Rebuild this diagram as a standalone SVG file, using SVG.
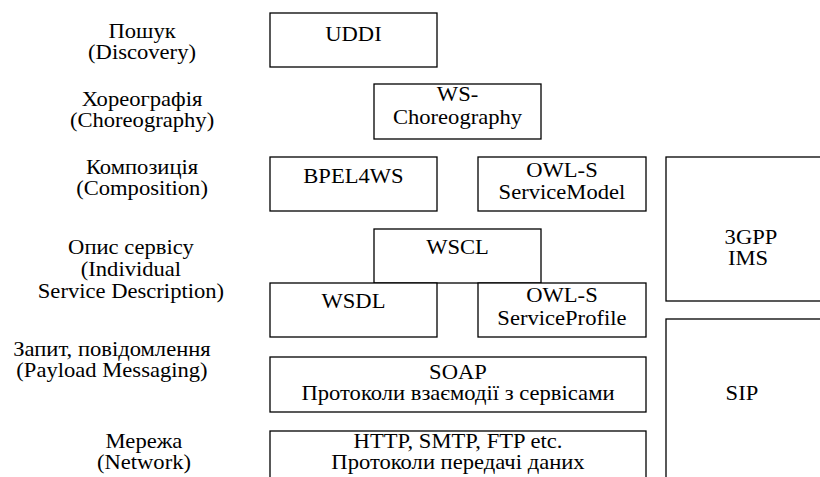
<svg xmlns="http://www.w3.org/2000/svg" width="820" height="477" viewBox="0 0 820 477">
  <style>
    .box { fill: #ffffff; stroke: #000000; stroke-width: 1.3; }
    text { font-family: "Liberation Serif", "Times New Roman", serif; font-size: 20px; fill: #000000; text-anchor: middle; }
  </style>
  <rect width="820" height="477" fill="#ffffff"/>

  <!-- layer captions (text is widened 1.13x, so x values are divided by 1.13) -->
  <g id="layer-labels" transform="scale(1.13 1)">
    <text x="125.7" y="38">Пошук</text>
    <text x="125.7" y="59">(Discovery)</text>
    <text x="125.7" y="106">Хореографія</text>
    <text x="125.7" y="127">(Choreography)</text>
    <text x="125.7" y="174">Композиція</text>
    <text x="125.7" y="195">(Composition)</text>
    <text x="115.9" y="254">Опис сервісу</text>
    <text x="115.9" y="276">(Individual</text>
    <text x="115.9" y="298">Service Description)</text>
    <text x="99.1" y="356">Запит, повідомлення</text>
    <text x="99.1" y="377">(Payload Messaging)</text>
    <text x="127.4" y="448">Мережа</text>
    <text x="127.4" y="469">(Network)</text>
  </g>

  <!-- adjacent boxes share edges; no separate connectors -->
  <g id="connectors"></g>

  <g id="uddi">
    <rect class="box" x="270" y="13" width="167" height="54"/>
    <g transform="scale(1.13 1)"><text x="312.8" y="41">UDDI</text></g>
  </g>
  <g id="ws-choreography">
    <rect class="box" x="374" y="84" width="167" height="55"/>
    <g transform="scale(1.13 1)">
      <text x="404.9" y="101">WS-</text>
      <text x="404.9" y="124">Choreography</text>
    </g>
  </g>
  <g id="bpel4ws">
    <rect class="box" x="270" y="157" width="167" height="54"/>
    <g transform="scale(1.13 1)"><text x="312.8" y="183">BPEL4WS</text></g>
  </g>
  <g id="owls-servicemodel">
    <rect class="box" x="478" y="157" width="168" height="54"/>
    <g transform="scale(1.13 1)">
      <text x="497.3" y="177">OWL-S</text>
      <text x="497.3" y="199">ServiceModel</text>
    </g>
  </g>
  <g id="wscl">
    <rect class="box" x="374" y="229" width="167" height="54"/>
    <g transform="scale(1.13 1)"><text x="404.9" y="254">WSCL</text></g>
  </g>
  <g id="wsdl">
    <rect class="box" x="270" y="283" width="167" height="54"/>
    <g transform="scale(1.13 1)"><text x="312.8" y="308">WSDL</text></g>
  </g>
  <g id="owls-serviceprofile">
    <rect class="box" x="478" y="283" width="168" height="54"/>
    <g transform="scale(1.13 1)">
      <text x="497.3" y="302">OWL-S</text>
      <text x="497.3" y="325">ServiceProfile</text>
    </g>
  </g>
  <g id="soap">
    <rect class="box" x="270" y="357" width="376" height="55"/>
    <g transform="scale(1.13 1)">
      <text x="405.3" y="379">SOAP</text>
      <text x="405.3" y="400">Протоколи взаємодії з сервісами</text>
    </g>
  </g>
  <g id="http">
    <rect class="box" x="270" y="431" width="376" height="60"/>
    <g transform="scale(1.13 1)">
      <text x="405.3" y="448">HTTP, SMTP, FTP etc.</text>
      <text x="405.3" y="469">Протоколи передачі даних</text>
    </g>
  </g>
  <g id="ims">
    <rect class="box" x="666" y="157" width="170" height="144"/>
    <g transform="scale(1.13 1)">
      <text x="664.6" y="244">3GPP</text>
      <text x="662.0" y="265">IMS</text>
    </g>
  </g>
  <g id="sip">
    <rect class="box" x="666" y="319" width="170" height="170"/>
    <g transform="scale(1.13 1)"><text x="656.6" y="400">SIP</text></g>
  </g>
</svg>
